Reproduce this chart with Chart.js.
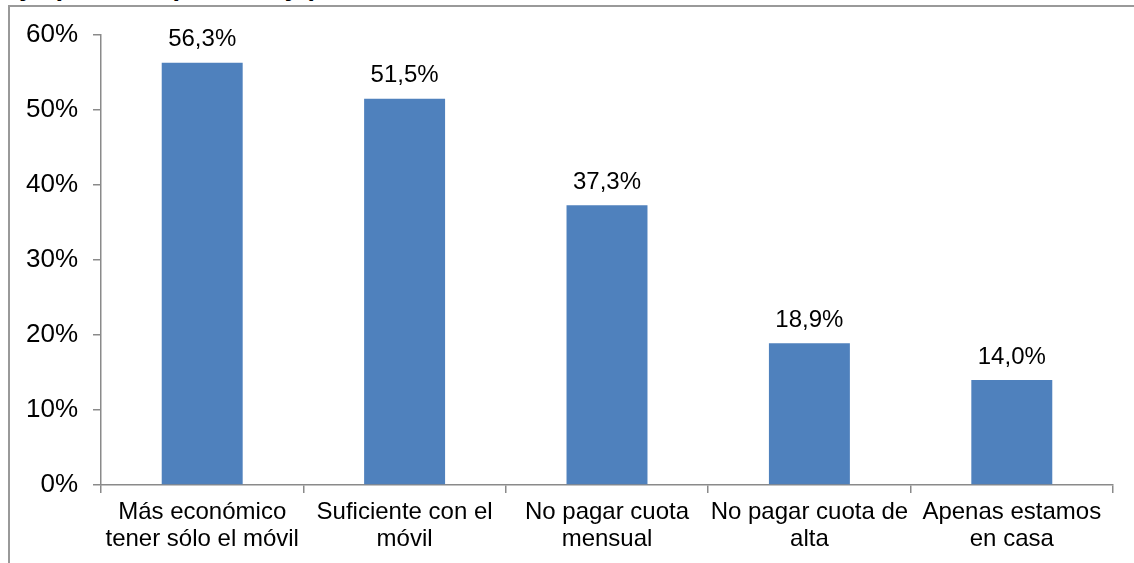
<!DOCTYPE html>
<html lang="es">
<head>
<meta charset="utf-8">
<title>Motivos para no tener teléfono fijo</title>
<script src="https://cdn.jsdelivr.net/npm/chart.js@4/dist/chart.umd.min.js"></script>
<style>
  html, body { margin:0; padding:0; background:#fff; overflow:hidden; }
  #wrap { position:relative; width:1134px; height:563px; overflow:hidden; }
  #titulo {
    position:absolute; right:816px; top:-29px; white-space:nowrap;
    font:bold 27px 'Liberation Sans', Arial, sans-serif; line-height:30px; color:#000;
  }
  #marco {
    position:absolute; left:8px; top:5px; width:1300px; height:700px;
    border:2px solid #999; box-sizing:border-box;
  }
  #box { position:absolute; left:0; top:0; width:1134px; height:563px; }
</style>
</head>
<body>
<div id="wrap">
  <div id="titulo">Motivos para no tener teléfono fijo (en total, porcentaje)</div>
  <div id="marco"></div>
  <div id="box"><canvas id="grafico"></canvas></div>
</div>
<script>
const categorias = [
  ['Más económico', 'tener sólo el móvil'],
  ['Suficiente con el', 'móvil'],
  ['No pagar cuota', 'mensual'],
  ['No pagar cuota de', 'alta'],
  ['Apenas estamos', 'en casa']
];
const porcentajes = [56.3, 51.5, 37.3, 18.9, 14.0];
const ejeY = { min: 0, max: 60, paso: 10 };

const FUENTE = "'Liberation Sans', Arial, sans-serif";
const GRIS = '#8a8a8a';
const fmt = (v) => v.toFixed(1).replace('.', ',') + '%';

// etiquetas de valor encima de cada barra
const etiquetas = {
  id: 'etiquetas',
  afterDatasetsDraw(chart) {
    const ctx = chart.ctx;
    const meta = chart.getDatasetMeta(0);
    ctx.save();
    ctx.font = '24px ' + FUENTE;
    ctx.fillStyle = '#000';
    ctx.textAlign = 'center';
    ctx.textBaseline = 'middle';
    meta.data.forEach((bar, i) => {
      ctx.fillText(fmt(porcentajes[i]), bar.x, bar.y - 23);
    });
    ctx.restore();
  }
};

new Chart(document.getElementById('grafico'), {
  type: 'bar',
  data: {
    labels: categorias,
    datasets: [{
      data: porcentajes,
      backgroundColor: '#4F81BD',
      borderWidth: 0,
      barPercentage: 0.4,
      categoryPercentage: 1
    }]
  },
  options: {
    responsive: true,
    maintainAspectRatio: false,
    devicePixelRatio: 1,
    animation: false,
    layout: { padding: { top: 35, right: 21, left: 0, bottom: 0 } },
    plugins: { legend: { display: false }, tooltip: { enabled: false } },
    scales: {
      x: {
        offset: true,
        grid: { display: true, drawOnChartArea: false, offset: true, tickLength: 8, color: GRIS, lineWidth: 1.5 },
        border: { color: GRIS, width: 1.5 },
        ticks: { color: '#000', font: { size: 24, family: FUENTE, lineHeight: '27px' }, padding: 6, maxRotation: 0, autoSkip: false },
        afterFit: (s) => { s.height = 78; }
      },
      y: {
        min: ejeY.min,
        max: ejeY.max,
        grid: { display: true, drawOnChartArea: false, tickLength: 8, color: GRIS, lineWidth: 1.5 },
        border: { color: GRIS, width: 1.5 },
        ticks: {
          stepSize: ejeY.paso,
          color: '#000',
          font: { size: 26, family: FUENTE },
          padding: 15,
          callback: (v) => v + '%'
        },
        afterFit: (s) => { s.width = 101; }
      }
    }
  },
  plugins: [etiquetas]
});
</script>
</body>
</html>
